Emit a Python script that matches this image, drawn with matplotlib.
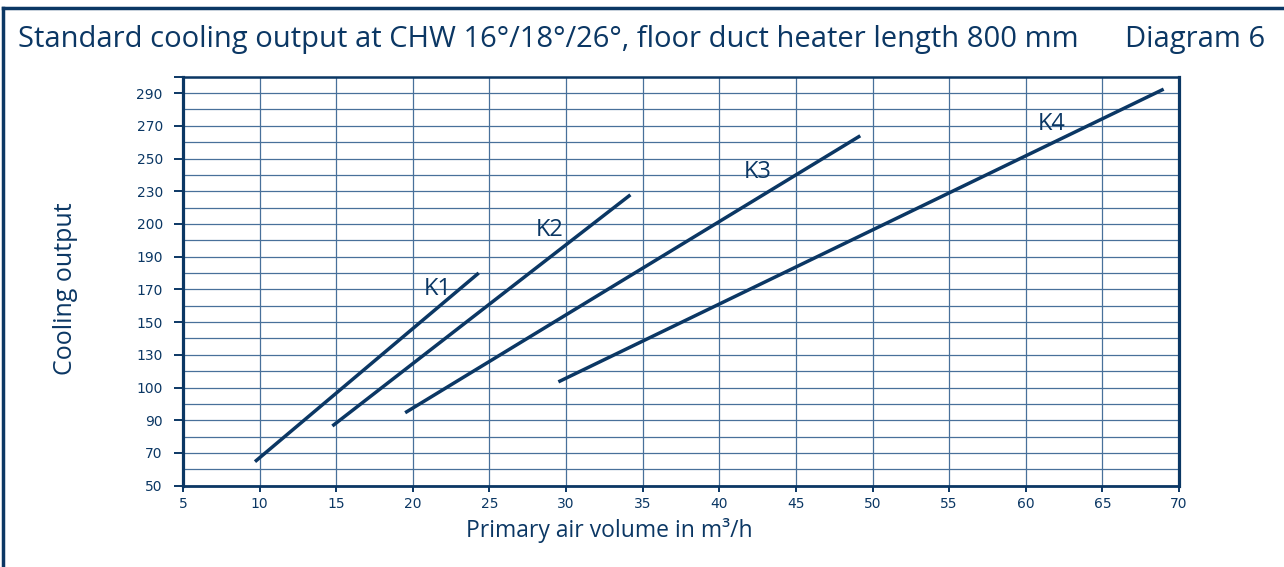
import numpy as np
import matplotlib.pyplot as plt
from matplotlib.lines import Line2D

NAVY = '#0b3764'
GRID = '#48709a'

# y axis of the source chart: labels are evenly spaced, not linear in value
y_labels = [50, 70, 90, 100, 130, 150, 170, 190, 200, 230, 250, 270, 290]
y_minor = [60, 80, 95, 115, 140, 160, 180, 195, 215, 240, 260, 280]
x_ticks = list(range(5, 75, 5))

# curve end points (primary air volume, cooling output)
k1_x = [9.7, 24.3]
k1_y = [64.7, 180]
k2_x = [14.75, 34.2]
k2_y = [86.5, 226.7]
k3_x = [19.5, 49.2]
k3_y = [92.3, 263.9]
k4_x = [29.5, 69.0]
k4_y = [105.2, 292.4]
curve_names = ['K1', 'K2', 'K3', 'K4']
label_x = [21.6, 28.9, 42.5, 61.7]
label_y = [170, 198, 242, 271]

# piecewise scale: each label gets one slot
scale_vals = np.array([30] + y_labels + [310], dtype=float)
scale_idx = np.arange(-1, len(y_labels) + 1, dtype=float)


def fwd(v):
    return np.interp(v, scale_vals, scale_idx)


def inv(i):
    return np.interp(i, scale_idx, scale_vals)


plt.rcParams['font.family'] = ['Open Sans', 'DejaVu Sans']

fig = plt.figure(figsize=(12.84, 5.67), dpi=100)
ax = fig.add_axes([0.1425, 0.1434, 0.7757, 0.7213])
ax.set_yscale('function', functions=(fwd, inv))
ax.set_xlim(5, 70)
ax.set_ylim(50, 300)

ax.set_xticks(x_ticks)
ax.set_yticks(y_labels + [300])
ax.set_yticklabels([str(v) for v in y_labels] + [''])
ax.set_yticks(y_minor, minor=True)
ax.tick_params(axis='y', which='minor', length=0)
ax.tick_params(axis='both', which='major', direction='out', width=1.4,
               color=NAVY, labelcolor=NAVY, labelsize=10,
               labelfontfamily='DejaVu Sans')
ax.tick_params(axis='x', which='major', length=4.5, pad=3.8)
ax.tick_params(axis='y', which='major', length=6.5, pad=8)

ax.grid(True, which='both', color=GRID, linewidth=0.9)
ax.set_axisbelow(True)
for side, lw in [('left', 2.3), ('bottom', 2.0), ('right', 2.3), ('top', 1.8)]:
    ax.spines[side].set_color(NAVY)
    ax.spines[side].set_linewidth(lw)

for xs, ys in [(k1_x, k1_y), (k2_x, k2_y), (k3_x, k3_y), (k4_x, k4_y)]:
    ax.plot(xs, ys, color=NAVY, linewidth=2.5, solid_capstyle='butt')

for name, lx, ly in zip(curve_names, label_x, label_y):
    ax.text(lx, ly, name, color=NAVY, fontsize=17, ha='center', va='center')

ax.set_xlabel('Primary air volume in m³/h', color=NAVY, fontsize=16.5, va='baseline')
ax.xaxis.set_label_coords(0.4277, (485.7 - 537.5) / 409)
ax.set_ylabel('Cooling output', color=NAVY, fontsize=18, va='center')
ax.yaxis.set_label_coords(-0.1175, 0.481)

fig.text(18 / 1284, 1 - 39 / 567,
         'Standard cooling output at CHW 16°/18°/26°, floor duct heater length 800 mm',
         color=NAVY, fontsize=21, ha='left', va='center')
fig.text(1265 / 1284, 1 - 39 / 567, 'Diagram 6', color=NAVY, fontsize=21,
         ha='right', va='center')

# outer frame (top and left edges only)
fig.add_artist(Line2D([3 / 1284, 1], [1 - 8 / 567, 1 - 8 / 567],
                      transform=fig.transFigure, color=NAVY, linewidth=2.5))
fig.add_artist(Line2D([3 / 1284, 3 / 1284], [0, 1 - 8 / 567],
                      transform=fig.transFigure, color=NAVY, linewidth=2.5))

fig.savefig('out.png', dpi=100, facecolor='white')
